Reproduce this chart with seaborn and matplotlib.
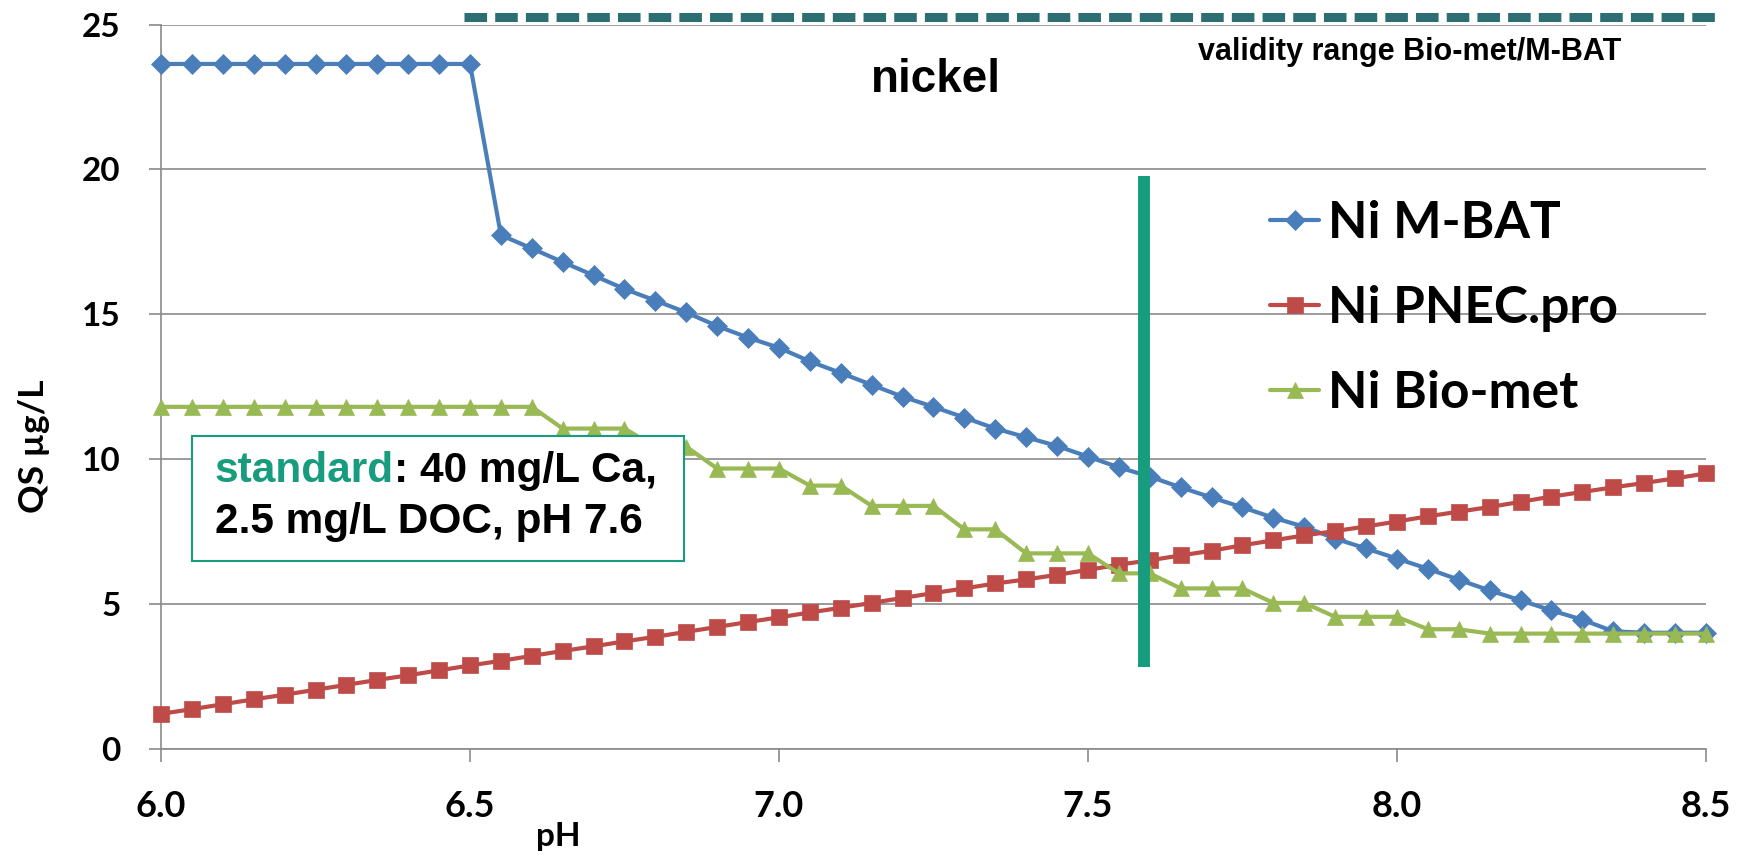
import matplotlib
matplotlib.use("Agg")
import matplotlib.pyplot as plt
import seaborn as sns
import pandas as pd
from matplotlib.patches import Rectangle

# ---------------- data ----------------
ph = [6.00, 6.05, 6.10, 6.15, 6.20, 6.25, 6.30, 6.35, 6.40, 6.45,
      6.50, 6.55, 6.60, 6.65, 6.70, 6.75, 6.80, 6.85, 6.90, 6.95,
      7.00, 7.05, 7.10, 7.15, 7.20, 7.25, 7.30, 7.35, 7.40, 7.45,
      7.50, 7.55, 7.60, 7.65, 7.70, 7.75, 7.80, 7.85, 7.90, 7.95,
      8.00, 8.05, 8.10, 8.15, 8.20, 8.25, 8.30, 8.35, 8.40, 8.45, 8.50]

ni_mbat = [23.64, 23.64, 23.64, 23.64, 23.64, 23.64, 23.64, 23.64, 23.64, 23.64,
           23.64, 17.73, 17.27, 16.80, 16.34, 15.87, 15.47, 15.06, 14.59, 14.19,
           13.84, 13.37, 12.97, 12.56, 12.15, 11.80, 11.43, 11.05, 10.75, 10.45,
           10.08, 9.71, 9.39, 9.02, 8.67, 8.33, 7.97, 7.66, 7.25, 6.91,
           6.56, 6.21, 5.83, 5.46, 5.12, 4.77, 4.45, 4.05, 4.00, 4.00, 4.00]

ni_pnec = [1.20, 1.36, 1.53, 1.70, 1.86, 2.03, 2.20, 2.37, 2.53, 2.70,
           2.87, 3.03, 3.20, 3.37, 3.53, 3.70, 3.86, 4.03, 4.20, 4.37,
           4.53, 4.70, 4.86, 5.03, 5.20, 5.37, 5.53, 5.70, 5.84, 6.00,
           6.17, 6.35, 6.50, 6.67, 6.83, 7.02, 7.19, 7.36, 7.51, 7.67,
           7.84, 8.02, 8.18, 8.34, 8.52, 8.70, 8.86, 9.02, 9.17, 9.33, 9.50]

ni_biomet = [11.80, 11.80, 11.80, 11.80, 11.80, 11.80, 11.80, 11.80, 11.80, 11.80,
             11.80, 11.80, 11.80, 11.05, 11.05, 11.05, 10.42, 10.42, 9.67, 9.67,
             9.67, 9.08, 9.08, 8.38, 8.38, 8.38, 7.57, 7.57, 6.74, 6.74,
             6.74, 6.05, 6.05, 5.53, 5.53, 5.53, 5.03, 5.03, 4.55, 4.55,
             4.55, 4.12, 4.12, 3.97, 3.97, 3.97, 3.97, 3.97, 3.97, 3.97, 3.97]

series_names = ["Ni M-BAT", "Ni PNEC.pro", "Ni Bio-met"]
x_ticks = [6.0, 6.5, 7.0, 7.5, 8.0, 8.5]
x_tick_labels = ["6.0", "6.5", "7.0", "7.5", "8.0", "8.5"]
y_ticks = [0, 5, 10, 15, 20, 25]
standard_ph = 7.59
validity_range = [6.49, 8.52]

df = pd.DataFrame({"pH": ph, series_names[0]: ni_mbat,
                   series_names[1]: ni_pnec, series_names[2]: ni_biomet})

# ---------------- style ----------------
sns.set_theme(style="white")
plt.rcParams["font.family"] = ["Lato", "DejaVu Sans"]
plt.rcParams["font.weight"] = "bold"
plt.rcParams["text.color"] = "black"
plt.rcParams["axes.labelcolor"] = "black"
plt.rcParams["xtick.color"] = "black"
plt.rcParams["ytick.color"] = "black"

colors = ["#4a7ebb", "#be4b48", "#98b954"]
markers = ["D", "s", "^"]
msizes = [10.5, 11, 12]
grid_c = "#8a8a8a"
teal = "#179c7d"
arial = ["Liberation Sans", "DejaVu Sans"]

fig = plt.figure(figsize=(17.52, 8.56), dpi=100)
ax = fig.add_axes([0.0919, 0.1255, 0.8818, 0.8458])

for name, c, m, ms in zip(series_names, colors, markers, msizes):
    sns.lineplot(data=df, x="pH", y=name, ax=ax, color=c, marker=m,
                 markersize=ms, markeredgecolor=c, markeredgewidth=0.5,
                 linewidth=3, label=name, clip_on=False, zorder=3)

ax.set_xlim(6.0, 8.5)
ax.set_ylim(0, 25)
ax.set_xticks(x_ticks)
ax.set_xticklabels(x_tick_labels)
ax.set_yticks(y_ticks)
ax.yaxis.grid(True, color=grid_c, linewidth=1.2)
ax.xaxis.grid(False)
for s in ["top", "right"]:
    ax.spines[s].set_visible(False)
for s in ["left", "bottom"]:
    ax.spines[s].set_color(grid_c)
    ax.spines[s].set_linewidth(1.2)
ax.tick_params(axis="both", which="major", length=9, width=1.2, color=grid_c,
               labelcolor="black", direction="out")
ax.tick_params(axis="y", pad=20, labelsize=24, left=True)
ax.tick_params(axis="x", pad=21, labelsize=26, bottom=True)
for lbl in ax.get_xticklabels() + ax.get_yticklabels():
    lbl.set_fontweight("bold")

ax.set_xlabel("pH", fontsize=24, fontweight="bold", color="black")
ax.set_ylabel("QS µg/L", fontsize=25.5, fontweight="bold", color="black")
ax.xaxis.set_label_coords(0.2573, -0.121)
ax.xaxis.label.set_va("center")
ax.yaxis.set_label_coords(-0.0825, 0.418)
ax.yaxis.label.set_va("center")

# standard vertical line
ax.plot([standard_ph, standard_ph], [2.82, 19.78], color=teal, linewidth=8.6,
        solid_capstyle="butt", zorder=4)

# validity range dashed line
ax.plot(validity_range, [25.25, 25.25], color="#2d6e73", linewidth=6.5,
        linestyle=(0, (2.5, 0.9)), dash_capstyle="butt", clip_on=False, zorder=4)
ax.text(8.02, 24.05, "validity range Bio-met/M-BAT", ha="center", va="center",
        fontsize=22, fontweight="bold", family=arial, color="black")
ax.text(7.254, 23.07, "nickel", ha="center", va="center", fontsize=33,
        fontweight="bold", family=arial, color="black")

# standard box
ax.add_patch(Rectangle((6.05, 6.48), 0.796, 4.31, facecolor="white",
                       edgecolor=teal, linewidth=1.5, zorder=5))
t1 = ax.text(6.087, 9.57, "standard", ha="left", va="center", fontsize=30.5,
             fontweight="bold", color=teal, zorder=6, family=arial)
ax.annotate(": 40 mg/L Ca,", xy=(1, 0), xycoords=t1, ha="left", va="bottom",
            fontsize=30.5, fontweight="bold", color="black", zorder=6,
            family=arial)
ax.text(6.087, 7.83, "2.5 mg/L DOC, pH 7.6", ha="left", va="center",
        fontsize=30.5, fontweight="bold", color="black", zorder=6, family=arial)

leg = ax.legend(loc="center left", bbox_to_anchor=(0.718, 0.608), frameon=False,
                prop={"weight": "bold", "size": 37},
                handlelength=0.95, handletextpad=0.18, labelspacing=0.74,
                borderpad=0, borderaxespad=0)
for t in leg.get_texts():
    t.set_color("black")

fig.savefig("out.png", dpi=100, facecolor="white")
